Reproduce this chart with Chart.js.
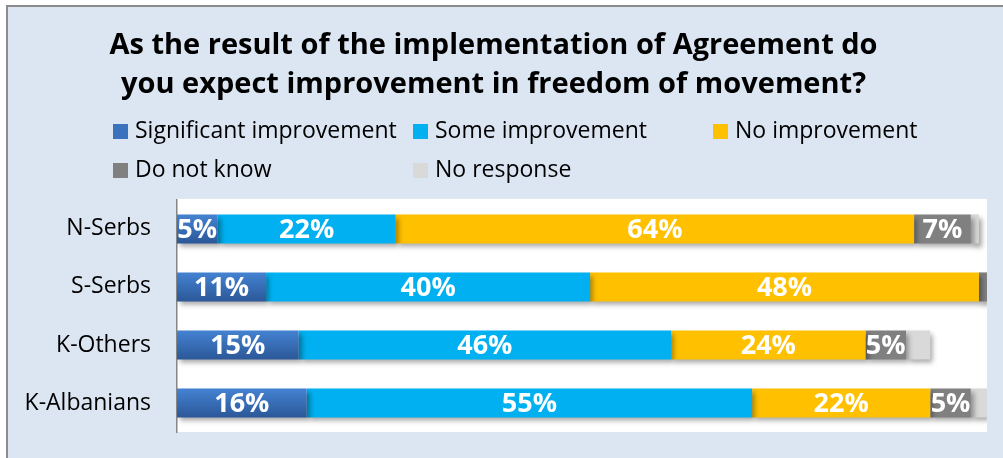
<!DOCTYPE html>
<html>
<head>
<meta charset="utf-8">
<script src="https://cdn.jsdelivr.net/npm/chart.js@4.4.1/dist/chart.umd.min.js"></script>
<style>
  html, body { margin: 0; padding: 0; background: #fff; }
  #wrap { width: 1003px; height: 458px; }
</style>
</head>
<body>
<div id="wrap"><canvas id="myChart" width="1003" height="458"></canvas></div>
<script>
// survey groups and answer shares (%)
var groups = ["N-Serbs", "S-Serbs", "K-Others", "K-Albanians"];
var answers = ["Significant improvement", "Some improvement", "No improvement", "Do not know", "No response"];
var significant = [5, 11, 15, 16];
var some = [22, 40, 46, 55];
var noImprovement = [64, 48, 24, 22];
var doNotKnow = [7, 1, 5, 5];
var noResponse = [1, 0, 3, 2];
var titleLines = ["As the result of the implementation of Agreement do", "you expect improvement in freedom of movement?"];

var colors = ["#3a72be", "#00b0f0", "#ffc000", "#808080", "#d9d9d9"];
var FONT = "'Open Sans', 'Liberation Sans', sans-serif";

// blue segment gets a light-to-dark vertical gradient
function blueFill(c) {
  var chart = c.chart;
  var y = chart.scales.y;
  if (!chart.chartArea || !y || c.dataIndex === undefined) return colors[0];
  var yc = y.getPixelForValue(c.dataIndex);
  var g = chart.ctx.createLinearGradient(0, yc - 15, 0, yc + 15);
  g.addColorStop(0, "#4483d3");
  g.addColorStop(1, "#2b5797");
  return g;
}

var backdrop = {
  id: "backdrop",
  beforeDraw: function (chart) {
    var ctx = chart.ctx, a = chart.chartArea;
    ctx.save();
    ctx.fillStyle = "#ffffff";
    ctx.fillRect(0, 0, chart.width, chart.height);
    ctx.fillStyle = "#dce6f2";
    ctx.fillRect(7, 6, chart.width - 7, chart.height - 6);
    ctx.strokeStyle = "#8c8c8c";
    ctx.lineWidth = 2;
    ctx.beginPath();
    ctx.moveTo(7, chart.height);
    ctx.lineTo(7, 6);
    ctx.lineTo(chart.width, 6);
    ctx.stroke();
    ctx.fillStyle = "#ffffff";
    ctx.fillRect(a.left, a.top - 1, a.right - a.left, a.bottom - a.top + 1);
    ctx.restore();
  }
};

// legend laid out in a fixed three-column grid under the title
var gridLegend = {
  id: "gridLegend",
  afterDraw: function (chart) {
    var ctx = chart.ctx;
    ctx.save();
    ctx.font = "23px " + FONT;
    ctx.textBaseline = "middle";
    chart.data.datasets.forEach(function (ds, i) {
      var col = i % 3, row = Math.floor(i / 3);
      var x = 113 + col * 300;
      var y = 124 + row * 39;
      ctx.fillStyle = i === 0 ? "#3a72be" : colors[i];
      ctx.fillRect(x, y, 15, 15);
      ctx.fillStyle = "#000";
      ctx.fillText(ds.label, x + 22, y + 7);
    });
    ctx.restore();
  }
};

// drop shadow under the bars, then white value labels
var barDecor = {
  id: "barDecor",
  beforeDatasetsDraw: function (chart) {
    var ctx = chart.ctx;
    ctx.save();
    ctx.shadowColor = "rgba(0,0,0,0.35)";
    ctx.shadowBlur = 5;
    ctx.shadowOffsetX = 3;
    ctx.shadowOffsetY = 4;
  },
  afterDatasetsDraw: function (chart) {
    var ctx = chart.ctx;
    ctx.restore();
    ctx.save();
    ctx.font = "bold 27px " + FONT;
    ctx.fillStyle = "#ffffff";
    ctx.textAlign = "center";
    ctx.textBaseline = "middle";
    chart.data.datasets.forEach(function (ds, i) {
      var meta = chart.getDatasetMeta(i);
      meta.data.forEach(function (el, j) {
        var v = ds.data[j];
        if (v < 5) return;
        var p = el.getCenterPoint();
        ctx.fillText(v + "%", p.x, p.y + 1);
      });
    });
    ctx.restore();
  }
};

var seriesData = [significant, some, noImprovement, doNotKnow, noResponse];

new Chart("myChart", {
  type: "bar",
  data: {
    labels: groups,
    datasets: seriesData.map(function (d, i) {
      return {
        label: answers[i],
        data: d,
        backgroundColor: i === 0 ? blueFill : colors[i],
        borderWidth: 0,
        barPercentage: 1,
        categoryPercentage: 0.5
      };
    })
  },
  plugins: [backdrop, gridLegend, barDecor],
  options: {
    indexAxis: "y",
    responsive: false,
    animation: false,
    layout: { autoPadding: false, padding: { top: 0, left: 0, right: 16, bottom: 26 } },
    scales: {
      x: { stacked: true, min: 0, max: 100, display: false },
      y: {
        stacked: true,
        // invisible tick marks keep the labels clear of the axis line
        grid: { display: true, drawOnChartArea: false, drawTicks: true, tickLength: 26, color: "rgba(0,0,0,0)" },
        border: { display: true, color: "#868686", width: 1.5 },
        ticks: { color: "#000", padding: 0, font: { family: FONT, size: 23 } },
        afterFit: function (scale) { scale.width = 177; }
      }
    },
    plugins: {
      legend: { display: false },
      tooltip: { enabled: false },
      title: {
        display: true,
        text: titleLines,
        color: "#000",
        font: { family: FONT, size: 29, weight: "bold", lineHeight: 1.36 },
        padding: { top: 26, bottom: 95 }
      }
    }
  }
});
</script>
</body>
</html>
